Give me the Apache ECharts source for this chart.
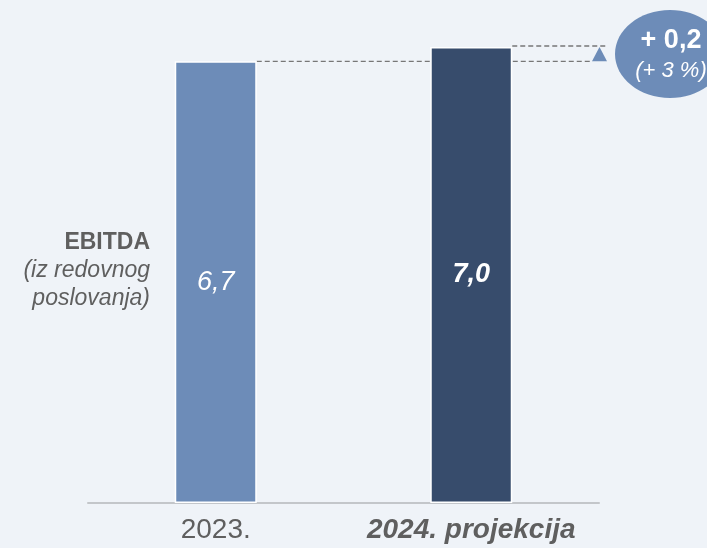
<!DOCTYPE html>
<html><head><meta charset="utf-8">
<script src="https://cdn.jsdelivr.net/npm/echarts@6/dist/echarts.min.js"></script>
<style>html,body{margin:0;padding:0;background:#eff3f8;}#c{width:707px;height:548px;}</style>
</head><body><div id="c"></div>
<script>
var categories = ['2023.', '2024. projekcija'];
var values = [6.78, 7.0];
var valueLabels = ['6,7', '7,0'];
var sideLabel = ['EBITDA', '(iz redovnog', 'poslovanja)'];
var deltaLabel = ['+ 0,2', '(+ 3 %)'];

var chart = echarts.init(document.getElementById('c'));
var FONT = '"Liberation Sans", Arial, sans-serif';
var barColors = ['#6d8cb8', '#374c6c'];
var BW = 82;

chart.setOption({
  backgroundColor: '#eff3f8',
  animation: false,
  grid: {left: 88, right: 108, top: 47, bottom: 45},
  xAxis: {
    type: 'category', data: categories,
    axisTick: {show: false},
    axisLine: {lineStyle: {color: '#c3c6ca', width: 2}},
    axisLabel: {
      interval: 0, hideOverlap: false,
      margin: 13,
      fontFamily: FONT, fontSize: 28, color: '#5f5f5f',
      formatter: function (v, i) { return i === 1 ? '{b|' + v + '}' : v; },
      rich: {b: {fontFamily: FONT, fontSize: 28, fontWeight: 'bold', fontStyle: 'italic', color: '#5f5f5f'}}
    }
  },
  yAxis: {type: 'value', min: 0, max: 7.0, show: false, splitLine: {show: false}},
  series: [{
    type: 'bar', barWidth: BW,
    data: values.map(function (v, i) {
      return {value: v, itemStyle: {color: barColors[i], borderColor: '#ffffff', borderWidth: 1.5},
        label: {fontWeight: i === 1 ? 'bold' : 'normal'}};
    }),
    label: {
      show: true, position: 'inside', color: '#ffffff',
      fontFamily: FONT, fontSize: 27, fontStyle: 'italic',
      formatter: function (p) { return valueLabels[p.dataIndex]; }
    }
  }]
});

var x0 = chart.convertToPixel({xAxisIndex: 0}, categories[0]) + BW / 2;
var x1 = chart.convertToPixel({xAxisIndex: 0}, categories[1]) + BW / 2;
var y0 = chart.convertToPixel({yAxisIndex: 0}, values[0]);
var y1 = chart.convertToPixel({yAxisIndex: 0}, values[1]);
var triX = 599.5;
var dash = {stroke: '#777777', lineWidth: 1.3, lineDash: [5, 3]};

chart.setOption({
  graphic: [
    {type: 'line', shape: {x1: x0, y1: y0, x2: triX - 8, y2: y0}, style: dash, silent: true},
    {type: 'line', shape: {x1: x1, y1: y1 - 1, x2: triX + 8, y2: y1 - 1}, style: dash, silent: true},
    {type: 'polygon', shape: {points: [[triX - 7.5, y0], [triX + 7.5, y0], [triX, y1]]}, style: {fill: '#6d8cb8'}},
    {type: 'ellipse', shape: {cx: 670, cy: 54, rx: 55, ry: 44}, style: {fill: '#6d8cb8'}},
    {type: 'text', x: 671, y: 41, style: {text: deltaLabel[0], fill: '#ffffff', font: 'bold 27px ' + FONT, textAlign: 'center', textVerticalAlign: 'middle'}},
    {type: 'text', x: 671, y: 71, style: {text: deltaLabel[1], fill: '#ffffff', font: 'italic 22px ' + FONT, textAlign: 'center', textVerticalAlign: 'middle'}},
    {type: 'text', x: 150, y: 243, style: {text: sideLabel[0], fill: '#5f5f5f', font: 'bold 23px ' + FONT, textAlign: 'right', textVerticalAlign: 'middle'}},
    {type: 'text', x: 150, y: 271, style: {text: sideLabel[1], fill: '#5f5f5f', font: 'italic 23px ' + FONT, textAlign: 'right', textVerticalAlign: 'middle'}},
    {type: 'text', x: 150, y: 299, style: {text: sideLabel[2], fill: '#5f5f5f', font: 'italic 23px ' + FONT, textAlign: 'right', textVerticalAlign: 'middle'}}
  ]
});
</script></body></html>
